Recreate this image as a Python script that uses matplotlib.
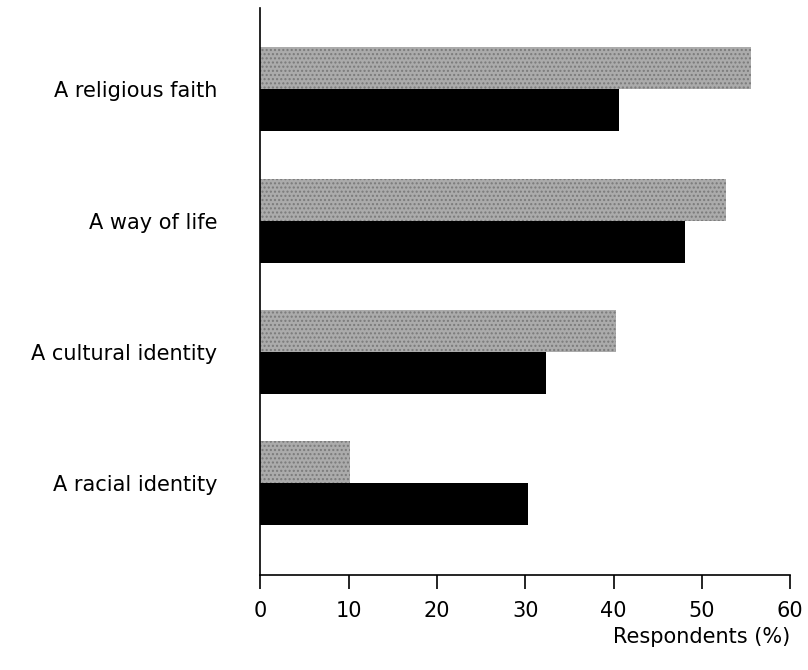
import numpy as np
import matplotlib.pyplot as plt

plt.rcParams['font.family'] = ['DejaVu Sans']

categories = ["A racial identity", "A cultural identity", "A way of life", "A religious faith"]
grey_values = [10.2, 40.3, 52.7, 55.6]
black_values = [30.3, 32.3, 48.1, 40.6]
x_ticks = [0, 10, 20, 30, 40, 50, 60]

fig = plt.figure(figsize=(8.08, 6.70), dpi=100)
ax = fig.add_axes([0.322, 0.142, 0.656, 0.846])

y = np.arange(len(categories))
h = 0.32
ax.barh(y + h / 2, grey_values, height=h, color="#ababab", hatch="....",
        edgecolor="#7a7a7a", linewidth=0)
ax.barh(y - h / 2, black_values, height=h, color="black")

ax.set_xlim(0, 60)
ax.set_ylim(-0.70, 3.62)
ax.set_xticks(x_ticks)
ax.set_yticks(y)
ax.set_yticklabels(categories, fontsize=15)
ax.tick_params(axis="y", length=0, pad=31)
ax.tick_params(axis="x", direction="out", length=10, width=1.2, labelsize=15, pad=9)

for s in ["top", "right"]:
    ax.spines[s].set_visible(False)
ax.spines["left"].set_linewidth(1.2)
ax.spines["bottom"].set_linewidth(1.2)

fig.text(0.978, 0.035, "Respondents (%)", ha="right", va="bottom", fontsize=15)

fig.savefig("out.png", dpi=100)
